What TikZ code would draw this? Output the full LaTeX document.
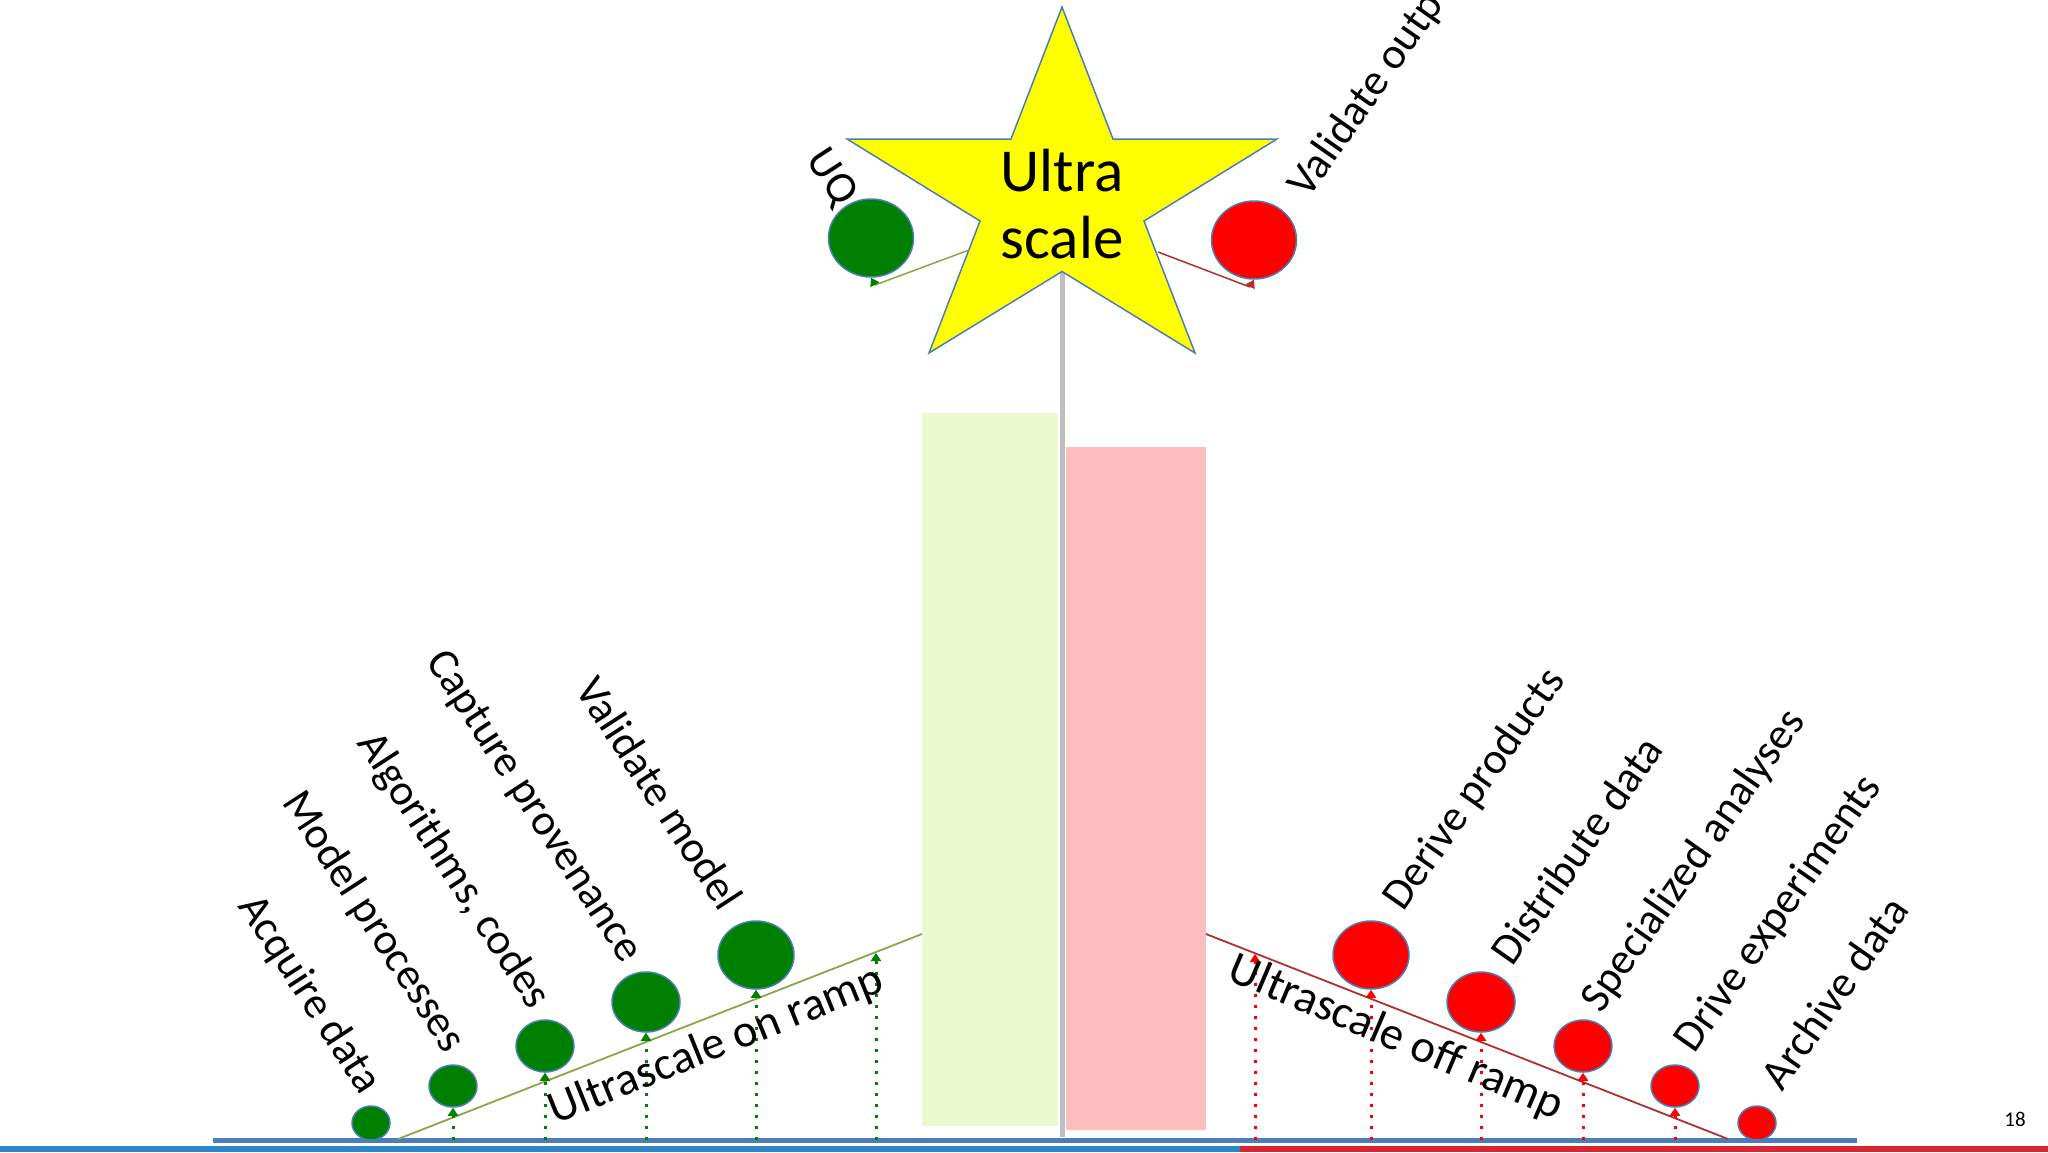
\documentclass[tikz,border=0pt]{standalone}
\usepackage{fontspec}
\setmainfont{Carlito}
\usetikzlibrary{arrows.meta,shapes.geometric}
\definecolor{ballgreen}{RGB}{0,128,0}
\definecolor{ballred}{RGB}{255,0,0}
\definecolor{balledge}{RGB}{74,126,187}
\definecolor{onramp}{RGB}{140,165,70}
\definecolor{offramp}{RGB}{176,48,48}
\definecolor{greenbox}{RGB}{236,249,208}
\definecolor{pinkbox}{RGB}{255,190,190}
\definecolor{axisgray}{RGB}{191,191,191}
\definecolor{baseblue}{RGB}{74,126,187}
\definecolor{stripeblue}{RGB}{46,134,200}
\definecolor{stripered}{RGB}{218,37,48}
\definecolor{staryellow}{RGB}{255,255,0}
\begin{document}
\begin{tikzpicture}[x=1pt,y=-1pt,
  lbl/.style={font=\fontsize{44}{53}\selectfont, inner sep=0pt},
  ramplbl/.style={font=\fontsize{46.5}{55}\selectfont, inner sep=0pt},
  ball/.style={ellipse, draw=balledge, line width=1.5pt, inner sep=0pt},
  gball/.style={ball, fill=ballgreen},
  rball/.style={ball, fill=ballred},
  tipup/.style={-{Triangle[width=10pt,length=8pt]}},
  gdot/.style={draw=ballgreen, line width=3pt, dash pattern=on 3pt off 8pt, tipup},
  rdot/.style={draw=red, line width=3pt, dash pattern=on 3pt off 8pt, tipup},
]
\useasboundingbox (0,0) rectangle (2048,1152);

% background boxes
\fill[greenbox] (922,413) rectangle (1058,1126);
\fill[pinkbox] (1066,447) rectangle (1206,1130);

% vertical axis
\coordinate (axtop) at (1062,271);
\coordinate (axbot) at (1062,1137);
\draw[axisgray, line width=5pt] (axtop) -- (axbot);

% bottom stripes and baseline
\fill[stripeblue] (0,1146) rectangle (1240,1152);
\fill[stripered] (1240,1146) rectangle (2048,1152);
\coordinate (bl) at (213,1140);
\coordinate (br) at (1857,1140);
\draw[baseblue, line width=5pt] (bl) -- (br);

% ramps
\coordinate (onA) at (398,1139);
\coordinate (onB) at (922,934);
\coordinate (offA) at (1206,934);
\coordinate (offB) at (1728,1139);
\draw[onramp, line width=1.8pt] (onA) -- (onB);
\draw[offramp, line width=1.8pt] (offA) -- (offB);

% star
\fill[staryellow, draw=balledge, line width=1.5pt]
  (1062,7) -- (1113,139) -- (1277,139) -- (1144,221) -- (1195,353)
  -- (1062,271.5) -- (929,353) -- (980,221) -- (847,139) -- (1011,139) -- cycle;
\node[font=\fontsize{61}{67}\selectfont, align=center, inner sep=0pt] (star) at (1062,204) {Ultra\\scale};
\coordinate (starL) at (969,250);
\coordinate (starR) at (1158,252);

% green balls
\node[gball, minimum width=38pt, minimum height=34pt] (g1) at (371,1123) {};
\node[gball, minimum width=48pt, minimum height=42pt] (g2) at (453,1086) {};
\node[gball, minimum width=58pt, minimum height=52pt] (g3) at (545,1046) {};
\node[gball, minimum width=68pt, minimum height=60pt] (g4) at (646,1002) {};
\node[gball, minimum width=76pt, minimum height=68pt] (g5) at (756,955) {};
\node[gball, minimum width=85pt, minimum height=78pt] (uq) at (871,238) {};

% red balls
\node[rball, minimum width=76pt, minimum height=68pt] (r1) at (1371,955) {};
\node[rball, minimum width=68pt, minimum height=60pt] (r2) at (1481,1002) {};
\node[rball, minimum width=58pt, minimum height=52pt] (r3) at (1583,1046) {};
\node[rball, minimum width=48pt, minimum height=42pt] (r4) at (1675,1086) {};
\node[rball, minimum width=38pt, minimum height=34pt] (r5) at (1757,1123) {};
\node[rball, minimum width=85pt, minimum height=78pt] (vo) at (1254,240) {};

% dotted up arrows (green)
\coordinate (gx) at (876,953);
\draw[gdot] (g2.south |- bl) -- (g2.south);
\draw[gdot] (g3.south |- bl) -- (g3.south);
\draw[gdot] (g4.south |- bl) -- (g4.south);
\draw[gdot] (g5.south |- bl) -- (g5.south);
\draw[gdot] (gx |- bl) -- (gx);

% dotted up arrows (red)
\coordinate (rx) at (1255,954);
\draw[rdot] (rx |- bl) -- (rx);
\draw[rdot] (r1.south |- bl) -- (r1.south);
\draw[rdot] (r2.south |- bl) -- (r2.south);
\draw[rdot] (r3.south |- bl) -- (r3.south);
\draw[rdot] (r4.south |- bl) -- (r4.south);

% star connectors
\coordinate (uqk) at (875,285);
\coordinate (vok) at (1250,287);
\draw[onramp, line width=1.5pt] (starL) -- (uqk);
\draw[draw=ballgreen, line width=1.5pt, tipup] (uqk) -- (uq.south);
\draw[offramp, line width=1.5pt] (starR) -- (vok);
\draw[draw=offramp, line width=1.5pt, tipup] (vok) -- (vo.south);

% labels left
\node[lbl, rotate=-57] (t1) at (309,995) {Acquire data};
\node[lbl, rotate=-57] (t2) at (373,922) {Model processes};
\node[lbl, rotate=-57] (t3) at (453,871) {Algorithms, codes};
\node[lbl, rotate=-57] (t4) at (533,807) {Capture provenance};
\node[lbl, rotate=-57] (t5) at (660,793) {Validate model};
\node[lbl, rotate=-57] (tuq) at (831,178) {UQ};

% labels right
\node[lbl, rotate=55] (s1) at (1475,790) {Derive products};
\node[lbl, rotate=55] (s2) at (1576,850) {Distribute data};
\node[lbl, rotate=55] (s3) at (1694,861) {Specialized analyses};
\node[lbl, rotate=55] (s4) at (1779,914) {Drive experiments};
\node[lbl, rotate=55] (s5) at (1834,993) {Archive data};
\node[lbl, rotate=55] (svo) at (1378,80) {Validate output};

% ramp labels
\node[ramplbl, rotate=22] (onl) at (716,1046) {Ultrascale on ramp};
\node[ramplbl, rotate=-23] (offl) at (1396,1038) {Ultrascale off ramp};

% page number
\node[font=\fontsize{21}{25}\selectfont, inner sep=0pt] (pg) at (2015,1119) {18};
\end{tikzpicture}
\end{document}
